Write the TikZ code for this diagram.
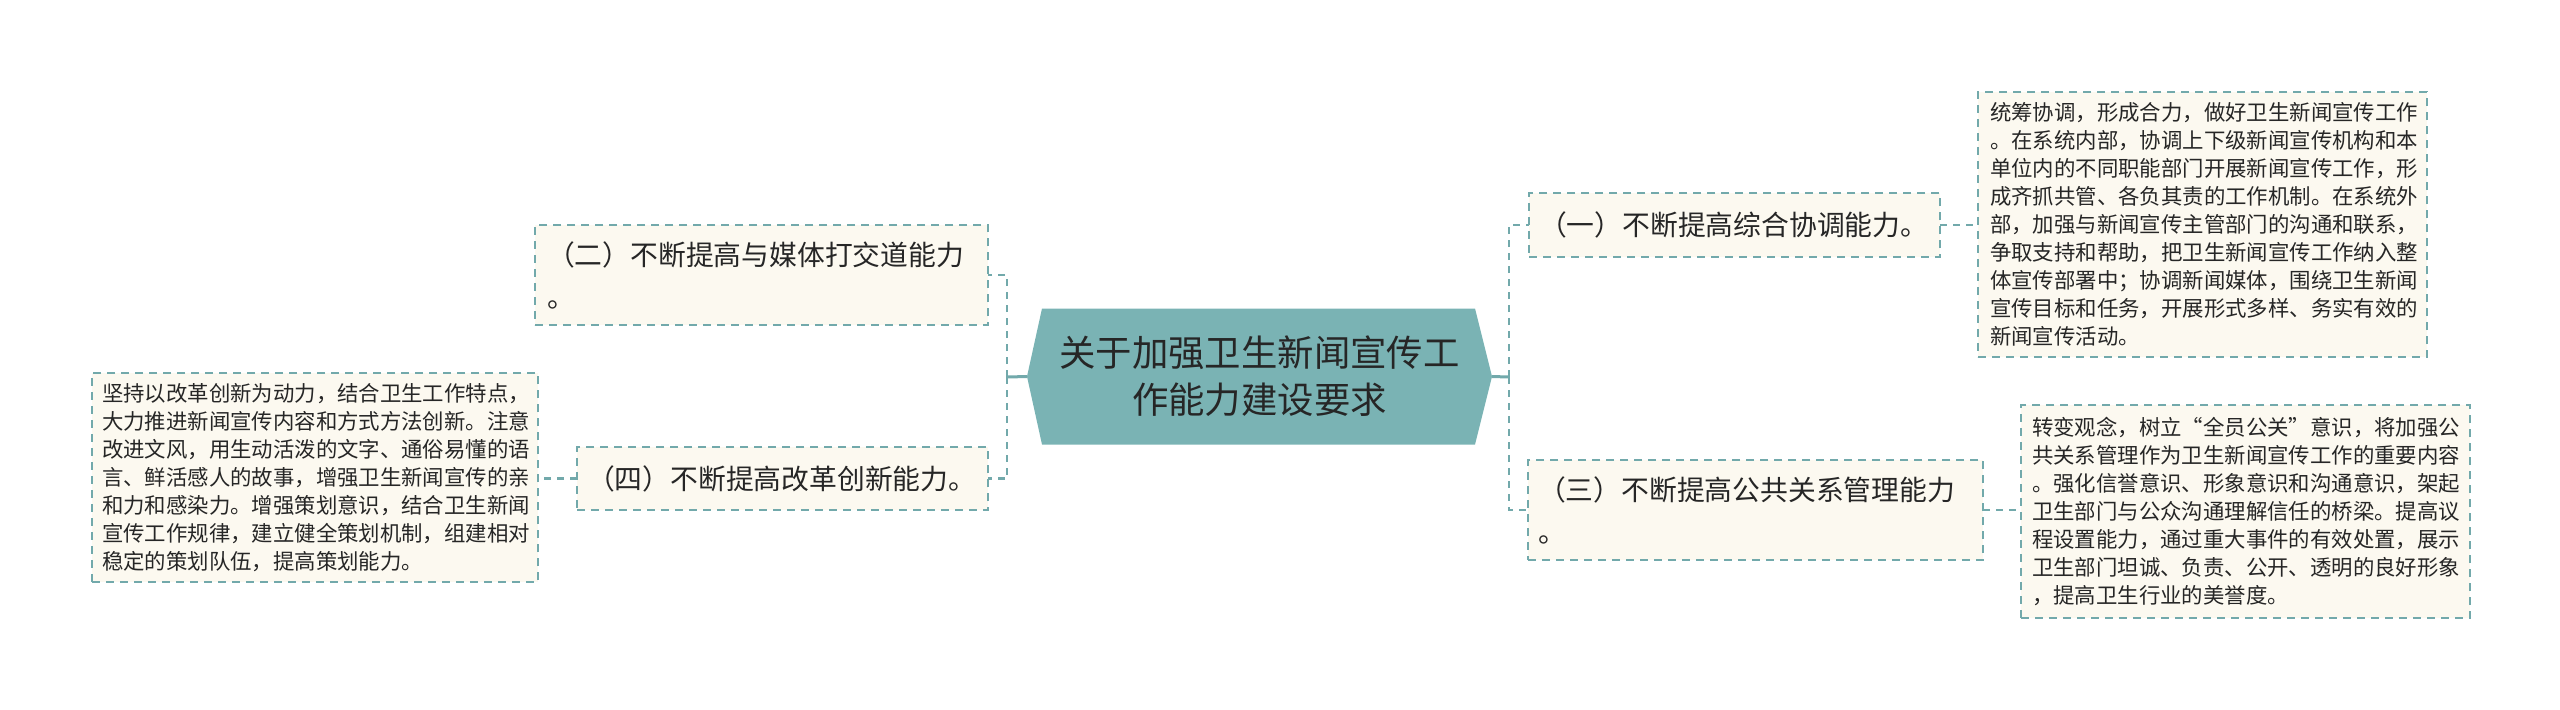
\documentclass[tikz,border=0pt]{standalone}
\usepackage{fontspec}
\setmainfont{Noto Sans CJK SC}
\newfontfamily\fwq[CharacterWidth=Full]{Noto Sans CJK SC}
\usetikzlibrary{backgrounds}
\definecolor{cfill}{HTML}{7AB3B4}
\definecolor{bordc}{HTML}{72A9AB}
\definecolor{cream}{HTML}{FCF9F0}
\definecolor{txt}{HTML}{262626}
\begin{document}
\begin{tikzpicture}[x=0.5pt,y=-0.5pt,
  box/.style={draw=bordc, line width=0.75pt, dash pattern=on 4pt off 3pt, fill=cream, text=txt, align=left, anchor=north west, inner ysep=0pt, outer sep=0pt},
  small/.style={font=\fontsize{10.7}{14}\selectfont},
  mid/.style={font=\fontsize{13.9}{21}\selectfont},
  conn/.style={draw=bordc, line width=1.2pt, dash pattern=on 3.5pt off 3pt},
  stub/.style={draw=bordc, line width=1.5pt}]
\useasboundingbox (0,0) rectangle (2560,709);

% central topic
\node[minimum width=232.5pt, minimum height=68pt, inner sep=0pt, outer sep=0pt, align=center, text=txt,
      font=\fontsize{18.2}{23.5}\selectfont] (c) at (1259.5,376.5) {关于加强卫生新闻宣传工\\作能力建设要求};
\begin{scope}[on background layer]
\fill[cfill] (c.west) -- ([xshift=7.5pt]c.north west) -- ([xshift=-8.5pt]c.north east) -- (c.east)
  -- ([xshift=-8.5pt]c.south east) -- ([xshift=7.5pt]c.south west) -- cycle;
\end{scope}

% left branch
\node[box, mid, minimum width=226.5pt, minimum height=50pt, text width=214.5pt, inner xsep=6pt] (b2) at (535,225)
  {（二）不断提高与媒体打交道能力\\。};
\node[box, mid, minimum width=205.5pt, minimum height=31.5pt, text width=195.5pt, inner xsep=5pt] (b4) at (577,447)
  {（四）不断提高改革创新能力。};
\node[box, small, minimum width=223pt, minimum height=104.5pt, text width=213pt, inner xsep=5pt] (lt) at (92,373)
  {坚持以改革创新为动力，结合卫生工作特点，\\
   大力推进新闻宣传内容和方式方法创新。注意\\
   改进文风，用生动活泼的文字、通俗易懂的语\\
   言、鲜活感人的故事，增强卫生新闻宣传的亲\\
   和力和感染力。增强策划意识，结合卫生新闻\\
   宣传工作规律，建立健全策划机制，组建相对\\
   稳定的策划队伍，提高策划能力。};

% right branch
\node[box, mid, minimum width=205.5pt, minimum height=32pt, text width=195.5pt, inner xsep=5pt] (b1) at (1529,193)
  {（一）不断提高综合协调能力。};
\node[box, mid, minimum width=227.5pt, minimum height=50pt, text width=217.5pt, inner xsep=5pt] (b3) at (1528,460)
  {（三）不断提高公共关系管理能力\\。};
\node[box, small, minimum width=224.5pt, minimum height=132.5pt, text width=212.5pt, inner xsep=6pt] (rt) at (1978,92)
  {统筹协调，形成合力，做好卫生新闻宣传工作\\
   。在系统内部，协调上下级新闻宣传机构和本\\
   单位内的不同职能部门开展新闻宣传工作，形\\
   成齐抓共管、各负其责的工作机制。在系统外\\
   部，加强与新闻宣传主管部门的沟通和联系，\\
   争取支持和帮助，把卫生新闻宣传工作纳入整\\
   体宣传部署中；协调新闻媒体，围绕卫生新闻\\
   宣传目标和任务，开展形式多样、务实有效的\\
   新闻宣传活动。};
\node[box, small, minimum width=224.5pt, minimum height=106.5pt, text width=213.5pt, inner xsep=5.5pt] (rb) at (2021,405)
  {转变观念，树立{\fwq “}全员公关{\fwq ”}意识，将加强公\\
   共关系管理作为卫生新闻宣传工作的重要内容\\
   。强化信誉意识、形象意识和沟通意识，架起\\
   卫生部门与公众沟通理解信任的桥梁。提高议\\
   程设置能力，通过重大事件的有效处置，展示\\
   卫生部门坦诚、负责、公开、透明的良好形象\\
   ，提高卫生行业的美誉度。};

% connectors
\coordinate (jl) at (1007,377);
\coordinate (jr) at (1509,377);
\draw[stub] (c.west) -- (jl);
\draw[stub] (c.east) -- (jr);
\draw[conn] (jl) |- (b2.east);
\draw[conn] (jl) |- (b4.east);
\draw[conn] (jr) |- (b1.west);
\draw[conn] (jr) |- (b3.west);
\draw[conn] (b4.west) -- (b4.west -| lt.east);
\draw[conn] (b1.east) -- (b1.east -| rt.west);
\draw[conn] (b3.east) -- (b3.east -| rb.west);
\end{tikzpicture}
\end{document}
